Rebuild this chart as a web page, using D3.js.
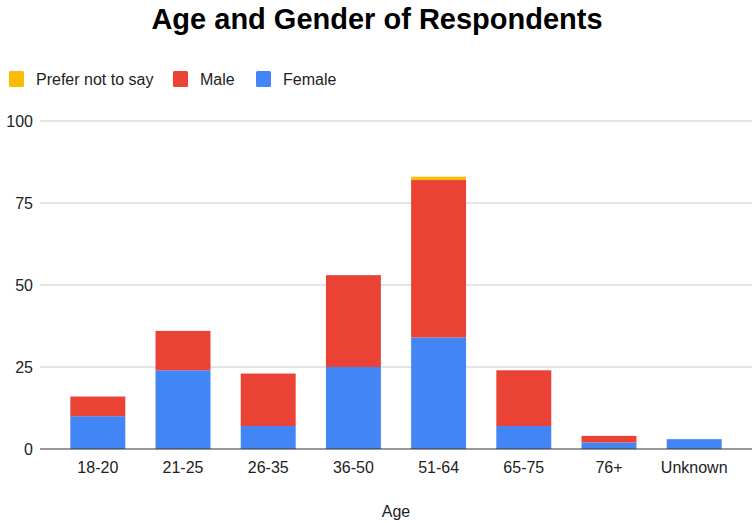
<!DOCTYPE html>
<html>
<head>
<meta charset="utf-8">
<script src="https://cdn.jsdelivr.net/npm/d3@7"></script>
<style>
  body { margin: 0; background: #fff; }
  svg { font-family: Arial, "Liberation Sans", sans-serif; }
</style>
</head>
<body>
<svg id="chart" width="754" height="523"></svg>
<script>
// Respondent counts by age band
const categories = ["18-20", "21-25", "26-35", "36-50", "51-64", "65-75", "76+", "Unknown"];
const female = [10, 24, 7, 25, 34, 7, 2, 3];
const male = [6, 12, 16, 28, 48, 17, 2, 0];
const preferNot = [0, 0, 0, 0, 1, 0, 0, 0];
const yTicks = [0, 25, 50, 75, 100];

const seriesKeys = ["female", "male", "preferNot"];
const seriesNames = { female: "Female", male: "Male", preferNot: "Prefer not to say" };
const colors = { female: "#4285F4", male: "#EA4335", preferNot: "#FBBC04" };

const rows = categories.map((c, i) => ({ cat: c, female: female[i], male: male[i], preferNot: preferNot[i] }));
const stacked = d3.stack().keys(seriesKeys)(rows);

const svg = d3.select("#chart");
const plot = { left: 40, right: 752, top: 121, bottom: 449 };
const labelFont = "Arial, 'Liberation Sans', sans-serif";

const x = d3.scaleBand().domain(categories).range([55, 737]).paddingInner(0.355).paddingOuter(0.18);
const y = d3.scaleLinear().domain([0, 100]).range([plot.bottom, plot.top]);

// Title
svg.append("text")
  .attr("x", 377).attr("y", 29)
  .attr("text-anchor", "middle")
  .attr("font-size", 29).attr("font-weight", "bold").attr("fill", "#000")
  .text("Age and Gender of Respondents");

// Legend
const legendItems = [
  { key: "preferNot", x: 9 },
  { key: "male", x: 173 },
  { key: "female", x: 256 }
];
const lg = svg.append("g");
legendItems.forEach(it => {
  lg.append("rect").attr("x", it.x).attr("y", 71).attr("width", 15).attr("height", 16)
    .attr("rx", 1.5).attr("fill", colors[it.key]);
  lg.append("text").attr("x", it.x + 27).attr("y", 85)
    .attr("font-size", 16).attr("fill", "#222").text(seriesNames[it.key]);
});

// Gridlines
svg.append("g").selectAll("line")
  .data(yTicks.filter(t => t !== 0))
  .join("line")
  .attr("x1", plot.left).attr("x2", plot.right)
  .attr("y1", d => y(d)).attr("y2", d => y(d))
  .attr("stroke", "#cccccc").attr("stroke-width", 1);

// Y axis labels
const yAxis = d3.axisLeft(y).tickValues(yTicks).tickSize(0).tickPadding(7);
svg.append("g")
  .attr("transform", `translate(${plot.left},0)`)
  .call(yAxis)
  .call(g => g.select(".domain").remove())
  .call(g => g.selectAll("text").attr("font-size", 16).attr("fill", "#222")
    .attr("font-family", labelFont));

// Bars
svg.append("g").selectAll("g")
  .data(stacked)
  .join("g")
  .attr("fill", d => colors[d.key])
  .selectAll("rect")
  .data(d => d)
  .join("rect")
  .attr("x", d => x(d.data.cat))
  .attr("width", x.bandwidth())
  .attr("y", d => y(d[1]))
  .attr("height", d => y(d[0]) - y(d[1]));

// Baseline and category labels
const xAxis = d3.axisBottom(x).tickSize(0).tickPadding(13);
svg.append("g")
  .attr("transform", `translate(0,${plot.bottom})`)
  .call(xAxis)
  .call(g => g.select(".domain").remove())
  .call(g => g.selectAll("text").attr("font-size", 16).attr("fill", "#222")
    .attr("font-family", labelFont));

svg.append("line")
  .attr("x1", plot.left).attr("x2", plot.right)
  .attr("y1", plot.bottom).attr("y2", plot.bottom)
  .attr("stroke", "#333").attr("stroke-width", 1.2);

// X axis title
svg.append("text")
  .attr("x", 396).attr("y", 517)
  .attr("text-anchor", "middle")
  .attr("font-size", 16).attr("fill", "#222")
  .text("Age");
</script>
</body>
</html>
